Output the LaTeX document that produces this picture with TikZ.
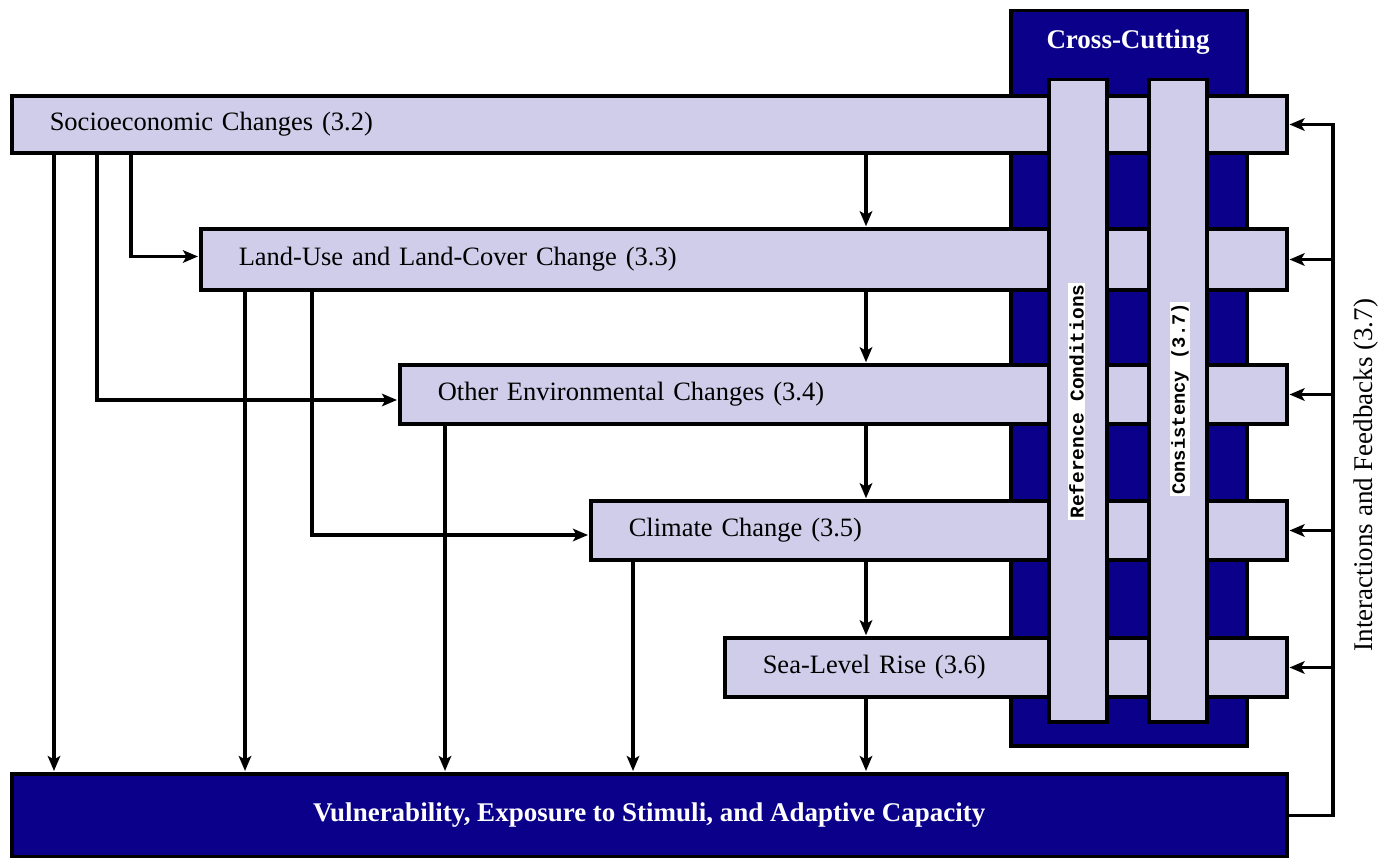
\documentclass[tikz,border=0pt]{standalone}
\usepackage{fontspec}
\setmainfont{Liberation Serif}
\newfontfamily\lblmono{Liberation Mono}
\usetikzlibrary{arrows.meta}
\definecolor{lav}{RGB}{207,205,233}
\definecolor{navyc}{RGB}{10,0,138}
\begin{document}
\begin{tikzpicture}[x=1pt,y=-1pt,
  bar/.style={draw=black,line width=3.5pt,fill=lav,inner ysep=0pt,font=\fontsize{26.5}{30}\selectfont},
  hbar/.style={bar,anchor=west,align=left,inner xsep=38pt},
  vbar/.style={bar,minimum width=58pt,minimum height=642pt,anchor=north west,inner sep=0pt},
  darkbox/.style={draw=black,line width=3.5pt,fill=navyc,inner sep=0pt,anchor=north west,text=white,font=\bfseries\fontsize{27}{30}\selectfont},
  arr/.style={line width=3.2pt,shorten >=1pt,-{Stealth[length=15pt,width=12.5pt,inset=3.5pt]}},
  vlabel/.style={fill=white,rotate=90,inner sep=1.5pt}]
\useasboundingbox (0,0) rectangle (1393,858);
% columns
\coordinate (c54) at (54,0);
\coordinate (c97) at (97,0);
\coordinate (c131) at (131,0);
\coordinate (c245) at (245,0);
\coordinate (c312) at (312,0);
\coordinate (c445) at (445,0);
\coordinate (c633) at (633,0);
\coordinate (c866) at (866,0);
\coordinate (c1333) at (1333,0);
% cross-cutting box
\node[darkbox,minimum width=236pt,minimum height=735pt] (cross) at (1009,9) {};
\node[text=white,font=\bfseries\fontsize{27}{30}\selectfont] (crosstitle) at (1128,42) {Cross-Cutting};
% horizontal bars
\node[hbar,text width=1199pt,minimum height=57pt] (socio) at (10,124.5) {Socioeconomic Changes (3.2)};
\node[hbar,text width=1010pt,minimum height=61pt] (land) at (199,259.5) {Land-Use and Land-Cover Change (3.3)};
\node[hbar,text width=811pt,minimum height=59pt] (other) at (398,394.5) {Other Environmental Changes (3.4)};
\node[hbar,text width=620pt,minimum height=59pt] (climate) at (589,530.5) {Climate Change (3.5)};
\node[hbar,text width=486pt,minimum height=59pt] (sea) at (723,667.5) {Sea-Level Rise (3.6)};
% vertical bars
\node[vbar] (refbar) at (1047,78) {};
\node[vbar] (consbar) at (1147,78) {};
\node[vlabel,font=\lblmono\bfseries\fontsize{19.5}{20}\selectfont] (reflabel) at (1076.5,401.5) {Reference Conditions};
\node[vlabel,font=\lblmono\bfseries\fontsize{18.8}{20}\selectfont] (conslabel) at (1180,399) {Consistency (3.7)};
% vulnerability
\node[darkbox,minimum width=1275pt,minimum height=83pt] (vuln) at (10,772) {Vulnerability, Exposure to Stimuli, and Adaptive Capacity};
% feedback label
\node[rotate=90,font=\fontsize{27}{29}\selectfont] (fblabel) at (1366,475) {Interactions and Feedbacks (3.7)};
% chain arrows
\draw[arr] (socio.south -| c866) -- (land.north -| c866);
\draw[arr] (land.south -| c866) -- (other.north -| c866);
\draw[arr] (other.south -| c866) -- (climate.north -| c866);
\draw[arr] (climate.south -| c866) -- (sea.north -| c866);
\draw[arr] (sea.south -| c866) -- (vuln.north -| c866);
% arrows to vulnerability
\draw[arr] (socio.south -| c54) -- (vuln.north -| c54);
\draw[arr] (land.south -| c245) -- (vuln.north -| c245);
\draw[arr] (other.south -| c445) -- (vuln.north -| c445);
\draw[arr] (climate.south -| c633) -- (vuln.north -| c633);
% elbow arrows
\draw[arr] (socio.south -| c131) |- ([yshift=3pt]land.west);
\draw[arr] (socio.south -| c97) |- ([yshift=-5.5pt]other.west);
\draw[arr] (land.south -| c312) |- ([yshift=-4.5pt]climate.west);
% feedback
\coordinate (fbtop) at (c1333 |- socio.east);
\draw[arr] (vuln.east) -| (fbtop) -- (socio.east);
\foreach \n in {land,other,climate,sea}
  \draw[arr] (c1333 |- \n.east) -- (\n.east);
\end{tikzpicture}
\end{document}
